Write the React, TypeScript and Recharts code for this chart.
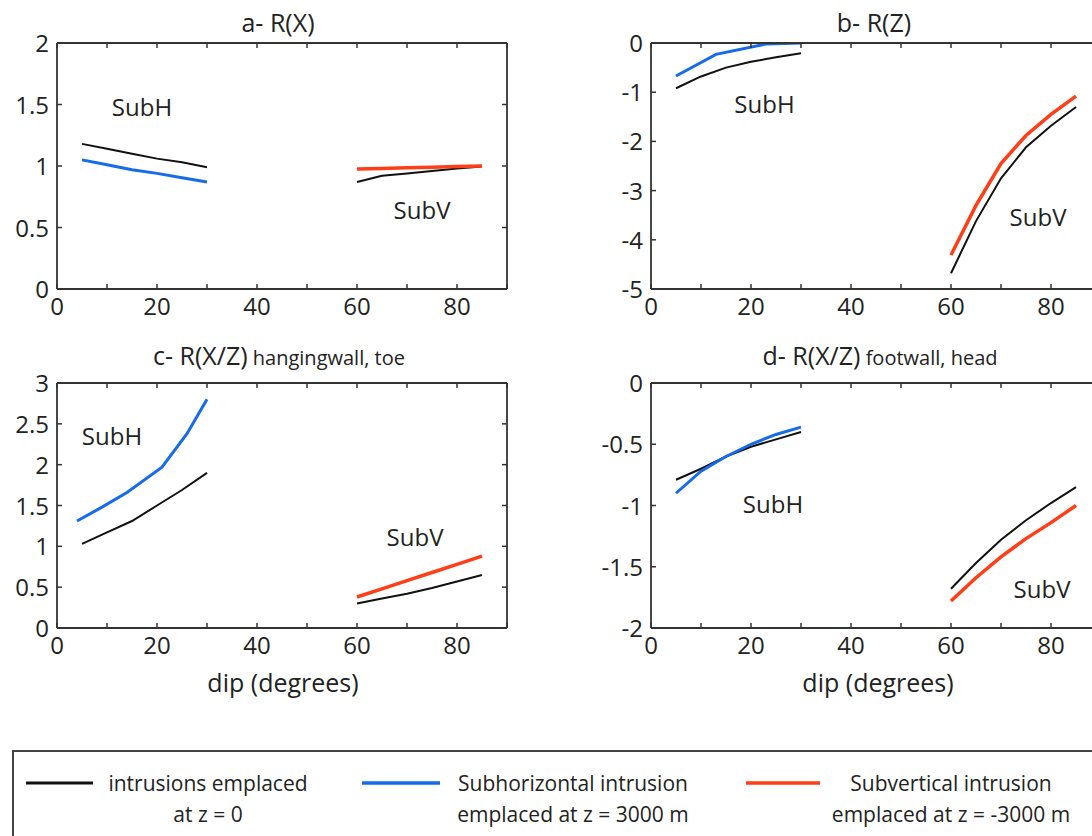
import React from 'react';
import { LineChart, Line, XAxis, YAxis, ReferenceDot } from 'recharts';

// dip (degrees) sampled for the two intrusion families
const DIP_H = [5, 10, 15, 20, 25, 30];
const DIP_V = [60, 65, 70, 75, 80, 85];
const X_TICKS = [0, 10, 20, 30, 40, 50, 60, 70, 80, 90];

// a- R(X)
const A_BLACK_H = [1.18, 1.14, 1.1, 1.06, 1.03, 0.99];
const A_BLUE_H = [1.05, 1.01, 0.97, 0.94, 0.905, 0.87];
const A_BLACK_V = [0.87, 0.92, 0.94, 0.96, 0.98, 0.995];
const A_RED_V = [0.975, 0.98, 0.985, 0.99, 0.995, 1.0];
const A_Y_TICKS = [0, 0.5, 1, 1.5, 2];

// b- R(Z)
const B_BLUE_DIP = [5, 13, 23, 30];
const B_BLUE_H = [-0.67, -0.23, -0.02, 0];
const B_BLACK_H = [-0.92, -0.68, -0.5, -0.38, -0.29, -0.21];
const B_RED_V = [-4.31, -3.3, -2.45, -1.88, -1.45, -1.08];
const B_BLACK_V = [-4.68, -3.62, -2.75, -2.12, -1.68, -1.3];
const B_Y_TICKS = [-5, -4, -3, -2, -1, 0];

// c- R(X/Z) hangingwall, toe
const C_BLUE_DIP = [4, 9, 14, 21, 26, 30];
const C_BLUE_H = [1.31, 1.48, 1.66, 1.97, 2.38, 2.8];
const C_BLACK_H = [1.03, 1.17, 1.31, 1.5, 1.69, 1.9];
const C_RED_V = [0.38, 0.48, 0.58, 0.68, 0.78, 0.88];
const C_BLACK_V = [0.3, 0.36, 0.42, 0.49, 0.57, 0.65];
const C_Y_TICKS = [0, 0.5, 1, 1.5, 2, 2.5, 3];

// d- R(X/Z) footwall, head
const D_BLUE_H = [-0.9, -0.72, -0.6, -0.5, -0.42, -0.36];
const D_BLACK_H = [-0.79, -0.7, -0.6, -0.52, -0.46, -0.4];
const D_RED_V = [-1.78, -1.59, -1.42, -1.27, -1.14, -1.0];
const D_BLACK_V = [-1.68, -1.47, -1.28, -1.12, -0.98, -0.85];
const D_Y_TICKS = [-2, -1.5, -1, -0.5, 0];

const LEGEND_LABELS = [
  ['intrusions emplaced', 'at z = 0'],
  ['Subhorizontal intrusion', 'emplaced at z = 3000 m'],
  ['Subvertical intrusion', 'emplaced at z = -3000 m'],
];

const BLACK = '#111111';
const BLUE = '#166be8';
const RED = '#ff3d17';
const FRAME = '#333333';
const FONT = '"Open Sans", sans-serif';

const pts = (dips: number[], vals: number[]) => dips.map((d, i) => ({ dip: d, v: vals[i] }));

type Series = { data: { dip: number; v: number }[]; color: string; width: number };
type Note = { x: number; y: number; text: string };
type PanelDef = {
  left: number;
  top: number;
  w: number;
  h: number;
  plotH: number;
  yDomain: [number, number];
  yTicks: number[];
  series: Series[];
  notes: Note[];
};

const PANELS: PanelDef[] = [
  {
    left: 0, top: 0, w: 540, h: 330, plotH: 246,
    yDomain: [0, 2], yTicks: A_Y_TICKS,
    series: [
      { data: pts(DIP_H, A_BLACK_H), color: BLACK, width: 2 },
      { data: pts(DIP_H, A_BLUE_H), color: BLUE, width: 3 },
      { data: pts(DIP_V, A_BLACK_V), color: BLACK, width: 2 },
      { data: pts(DIP_V, A_RED_V), color: RED, width: 3.5 },
    ],
    notes: [
      { x: 17, y: 1.48, text: 'SubH' },
      { x: 73, y: 0.64, text: 'SubV' },
    ],
  },
  {
    left: 594, top: 0, w: 560, h: 330, plotH: 246,
    yDomain: [-5, 0], yTicks: B_Y_TICKS,
    series: [
      { data: pts(DIP_H, B_BLACK_H), color: BLACK, width: 2 },
      { data: pts(B_BLUE_DIP, B_BLUE_H), color: BLUE, width: 3 },
      { data: pts(DIP_V, B_BLACK_V), color: BLACK, width: 2 },
      { data: pts(DIP_V, B_RED_V), color: RED, width: 3.5 },
    ],
    notes: [
      { x: 22.7, y: -1.24, text: 'SubH' },
      { x: 77.4, y: -3.53, text: 'SubV' },
    ],
  },
  {
    left: 0, top: 340, w: 540, h: 330, plotH: 245,
    yDomain: [0, 3], yTicks: C_Y_TICKS,
    series: [
      { data: pts(DIP_H, C_BLACK_H), color: BLACK, width: 2 },
      { data: pts(C_BLUE_DIP, C_BLUE_H), color: BLUE, width: 3 },
      { data: pts(DIP_V, C_BLACK_V), color: BLACK, width: 2 },
      { data: pts(DIP_V, C_RED_V), color: RED, width: 3.5 },
    ],
    notes: [
      { x: 11, y: 2.35, text: 'SubH' },
      { x: 71.6, y: 1.11, text: 'SubV' },
    ],
  },
  {
    left: 594, top: 340, w: 560, h: 330, plotH: 245,
    yDomain: [-2, 0], yTicks: D_Y_TICKS,
    series: [
      { data: pts(DIP_H, D_BLACK_H), color: BLACK, width: 2 },
      { data: pts(DIP_H, D_BLUE_H), color: BLUE, width: 3 },
      { data: pts(DIP_V, D_BLACK_V), color: BLACK, width: 2 },
      { data: pts(DIP_V, D_RED_V), color: RED, width: 3.5 },
    ],
    notes: [
      { x: 24.4, y: -0.99, text: 'SubH' },
      { x: 78.2, y: -1.68, text: 'SubV' },
    ],
  },
];

const PL = 57;
const PT = 43;
const PW = 450;
const TICK = 5;

const BottomTick = (props: any) => {
  const { x, y, payload } = props;
  return (
    <g>
      <line x1={x} x2={x} y1={y} y2={y - TICK} stroke={FRAME} strokeWidth={1.5} />
      {payload.value % 20 === 0 && (
        <text x={x} y={y + 26} textAnchor="middle" fontSize={24} fontFamily={FONT} fill="#222">
          {payload.value}
        </text>
      )}
    </g>
  );
};

const TopTick = (props: any) => {
  const { x, y } = props;
  return <line x1={x} x2={x} y1={y} y2={y + TICK} stroke={FRAME} strokeWidth={1.5} />;
};

const LeftTick = (props: any) => {
  const { x, y, payload } = props;
  return (
    <g>
      <line x1={x} x2={x + TICK} y1={y} y2={y} stroke={FRAME} strokeWidth={1.5} />
      <text x={x - 8} y={y + 9} textAnchor="end" fontSize={24} fontFamily={FONT} fill="#222">
        {String(payload.value)}
      </text>
    </g>
  );
};

const RightTick = (props: any) => {
  const { x, y } = props;
  return <line x1={x} x2={x - TICK} y1={y} y2={y} stroke={FRAME} strokeWidth={1.5} />;
};

const frame = { stroke: FRAME, strokeWidth: 1.8 };

// axes need a non-zero box to render, so each takes 1px out of the margin
const Panel = ({ p }: { p: PanelDef }) => (
  <div style={{ position: 'absolute', left: p.left, top: p.top }}>
    <LineChart
      width={p.w}
      height={p.h}
      margin={{ top: PT - 1, left: PL - 1, right: p.w - PL - PW - 1, bottom: p.h - PT - p.plotH - 1 }}
    >
      <XAxis xAxisId="b" type="number" dataKey="dip" domain={[0, 90]} ticks={X_TICKS} interval={0}
        orientation="bottom" height={1} tickSize={0} tickMargin={0} axisLine={frame} tickLine={false}
        tick={BottomTick} allowDataOverflow />
      <XAxis xAxisId="t" type="number" dataKey="dip" domain={[0, 90]} ticks={X_TICKS} interval={0}
        orientation="top" height={1} tickSize={0} tickMargin={0} axisLine={frame} tickLine={false}
        tick={TopTick} allowDataOverflow />
      <YAxis yAxisId="l" type="number" domain={p.yDomain} ticks={p.yTicks} interval={0}
        orientation="left" width={1} tickSize={0} tickMargin={0} axisLine={frame} tickLine={false}
        tick={LeftTick} allowDataOverflow />
      <YAxis yAxisId="r" type="number" domain={p.yDomain} ticks={p.yTicks} interval={0}
        orientation="right" width={1} tickSize={0} tickMargin={0} axisLine={frame} tickLine={false}
        tick={RightTick} allowDataOverflow />
      {p.series.map((s, i) => (
        <Line key={i} xAxisId="b" yAxisId="l" data={s.data} dataKey="v" type="linear"
          stroke={s.color} strokeWidth={s.width} dot={false} activeDot={false}
          isAnimationActive={false} />
      ))}
      {p.notes.map((n, i) => (
        <ReferenceDot key={i} xAxisId="b" yAxisId="l" x={n.x} y={n.y} r={0} ifOverflow="visible"
          shape={(sp: any) => (
            <text x={sp.cx} y={sp.cy + 9} textAnchor="middle" fontSize={24} fontFamily={FONT} fill="#222">
              {n.text}
            </text>
          )} />
      ))}
    </LineChart>
  </div>
);

const LEGEND_LINE = [[26, 93], [362, 440], [746, 820]];
const LEGEND_CENTER = [208, 573, 951];
const LEGEND_COLORS = [BLACK, BLUE, RED];

export default function App() {
  return (
    <div style={{ position: 'absolute', left: 0, top: 0, width: 1092, height: 836, overflow: 'hidden', background: '#fff' }}>
      {PANELS.map((p, i) => <Panel key={i} p={p} />)}
      <svg width={1092} height={836} style={{ position: 'absolute', left: 0, top: 0, pointerEvents: 'none' }}>
        <g fontFamily={FONT} fill="#222" textAnchor="middle">
          <text x={278} y={32} fontSize={25}>a- R(X)</text>
          <text x={874} y={32} fontSize={25}>b- R(Z)</text>
          <text x={279} y={365} fontSize={25}>c- R(X/Z)<tspan fontSize={20}> hangingwall, toe</tspan></text>
          <text x={880} y={365} fontSize={25}>d- R(X/Z)<tspan fontSize={20}> footwall, head</tspan></text>
          <text x={283} y={692} fontSize={25}>dip (degrees)</text>
          <text x={878} y={692} fontSize={25}>dip (degrees)</text>
        </g>
        <rect x={13} y={751} width={1200} height={200} fill="none" stroke="#444" strokeWidth={2} />
        {LEGEND_LABELS.map((lines, i) => (
          <g key={i}>
            <line x1={LEGEND_LINE[i][0]} x2={LEGEND_LINE[i][1]} y1={783} y2={783}
              stroke={LEGEND_COLORS[i]} strokeWidth={i === 0 ? 3 : 3.5} />
            <text x={LEGEND_CENTER[i]} y={791} fontSize={21} fontFamily={FONT} fill="#222" textAnchor="middle">{lines[0]}</text>
            <text x={LEGEND_CENTER[i]} y={822} fontSize={21} fontFamily={FONT} fill="#222" textAnchor="middle">{lines[1]}</text>
          </g>
        ))}
      </svg>
    </div>
  );
}
